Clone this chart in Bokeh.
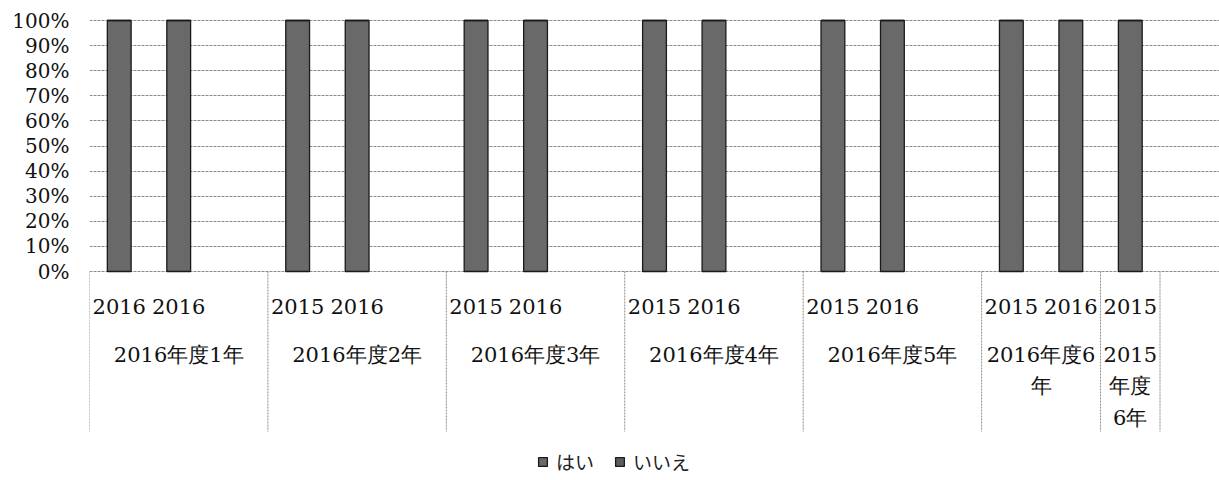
from bokeh.plotting import figure
from bokeh.models import Range1d, FixedTicker, NumeralTickFormatter, Legend, LegendItem, ColumnDataSource
from bokeh.core.properties import value
from bokeh.embed import file_html
from bokeh.resources import INLINE

# Outer category (school year / grade) and the inner year labels of each slot
groups = ["2016年度1年", "2016年度2年", "2016年度3年", "2016年度4年",
          "2016年度5年", "2016年度6年", "2015年度6年"]
years = [["2016", "2016", ""], ["2015", "2016", ""], ["2015", "2016", ""],
         ["2015", "2016", ""], ["2015", "2016", ""], ["2015", "2016"], ["2015"]]

# Share of answers per slot (%), one list per group
hai = [[100, 100, None], [100, 100, None], [100, 100, None], [100, 100, None],
       [100, 100, None], [100, 100], [100]]
iie = [[0, 0, None], [0, 0, None], [0, 0, None], [0, 0, None],
       [0, 0, None], [0, 0], [0]]

series = ["はい", "いいえ"]
colors = ["#696969", "#5c5c5c"]
y_ticks = [0, 0.1, 0.2, 0.3, 0.4, 0.5, 0.6, 0.7, 0.8, 0.9, 1.0]

SERIF = "DejaVu Serif"
SANS = "Noto Sans CJK JP"

W, H = 1219, 480
LEFT, TOP = 89, 10
PX = 251.0                # pixels per 100 %
ZERO_Y = 271              # screen row of 0 %
EXTRA_SLOTS = 1           # empty slot after the last group

n_slots = sum(len(g) for g in years) + EXTRA_SLOTS
slot_px = (W - LEFT) / n_slots

def px_to_y(row):
    return -(row - ZERO_Y) / PX

# flatten groups into slots
xs, tops_hai, tops_iie, inner_x, inner_txt = [], [], [], [], []
bounds = [0]
pos = 0
for g, ys, a, b in zip(groups, years, hai, iie):
    for k, (yr, va, vb) in enumerate(zip(ys, a, b)):
        cx = pos + k + 0.5
        if yr:
            inner_x.append(cx)
            inner_txt.append(yr)
        if va is not None:
            xs.append(cx)
            tops_hai.append(va / 100)
            tops_iie.append(vb / 100)
    pos += len(ys)
    bounds.append(pos)

src = ColumnDataSource(dict(x=xs, hai=tops_hai, iie=tops_iie))

p = figure(width=W, height=H, output_backend="svg", toolbar_location=None,
           x_range=Range1d(0, n_slots),
           y_range=Range1d(px_to_y(H), 1 + TOP / PX),
           min_border_left=LEFT, min_border_right=0,
           min_border_top=TOP, min_border_bottom=0)
p.outline_line_color = None
p.background_fill_color = "white"
p.border_fill_color = "white"

p.xaxis.visible = False
p.xgrid.visible = False
p.yaxis.ticker = FixedTicker(ticks=y_ticks)
p.yaxis.formatter = NumeralTickFormatter(format="0%")
p.yaxis.axis_line_color = None
p.yaxis.major_tick_line_color = None
p.yaxis.minor_tick_line_color = None
p.yaxis.major_tick_out = 0
p.yaxis.major_tick_in = 0
p.yaxis.major_label_standoff = 20
p.yaxis.major_label_text_font = SERIF
p.yaxis.major_label_text_font_size = "20px"
p.yaxis.major_label_text_color = "#111111"
p.ygrid.ticker = FixedTicker(ticks=y_ticks)
p.ygrid.grid_line_color = "#8c8c8c"
p.ygrid.grid_line_dash = "3 1"
p.ygrid.grid_line_width = 1

renderers = p.vbar_stack(["hai", "iie"], x="x", width=0.4, source=src,
                         color=colors, line_color="#1a1a1a", line_width=1.3)

# group dividers below the axis
bx = [b for b in bounds]
p.segment(x0=bx, x1=bx, y0=[0] * len(bx), y1=[px_to_y(431)] * len(bx),
          line_color="#8c8c8c", line_width=1, line_dash="2 1")

# inner year labels
p.text(x=inner_x, y=[px_to_y(306)] * len(inner_x), text=inner_txt,
       text_font=value(SERIF), text_font_size="21px", text_color="#111111",
       text_align="center", text_baseline="middle")

# outer labels, wrapped to the width of their group
def char_w(c):
    return 12 if ord(c) < 128 else 24

def wrap(label, width):
    lines, cur, cw = [], "", 0
    for c in label:
        w = char_w(c)
        if cur and cw + w > width:
            lines.append(cur)
            cur, cw = "", 0
        cur += c
        cw += w
    lines.append(cur)
    return "\n".join(lines)

outer_x, outer_txt = [], []
for i, g in enumerate(groups):
    outer_x.append((bounds[i] + bounds[i + 1]) / 2)
    outer_txt.append(wrap(g, (bounds[i + 1] - bounds[i]) * slot_px - 6))

p.text(x=outer_x, y=[px_to_y(342)] * len(outer_x), text=outer_txt,
       text_font=value(SERIF), text_font_size="21px", text_color="#111111",
       text_align="center", text_baseline="top", text_line_height=1.32)

legend = Legend(items=[LegendItem(label=s, renderers=[r]) for s, r in zip(series, renderers)],
                orientation="horizontal", location=(448, 5),
                glyph_width=11, glyph_height=11, label_standoff=8, spacing=20,
                padding=0, margin=0, border_line_color=None,
                background_fill_alpha=0,
                label_text_font=SANS, label_text_font_size="19px",
                label_text_color="#222222")
p.add_layout(legend)

open("out.html", "w").write(file_html(p, INLINE))
